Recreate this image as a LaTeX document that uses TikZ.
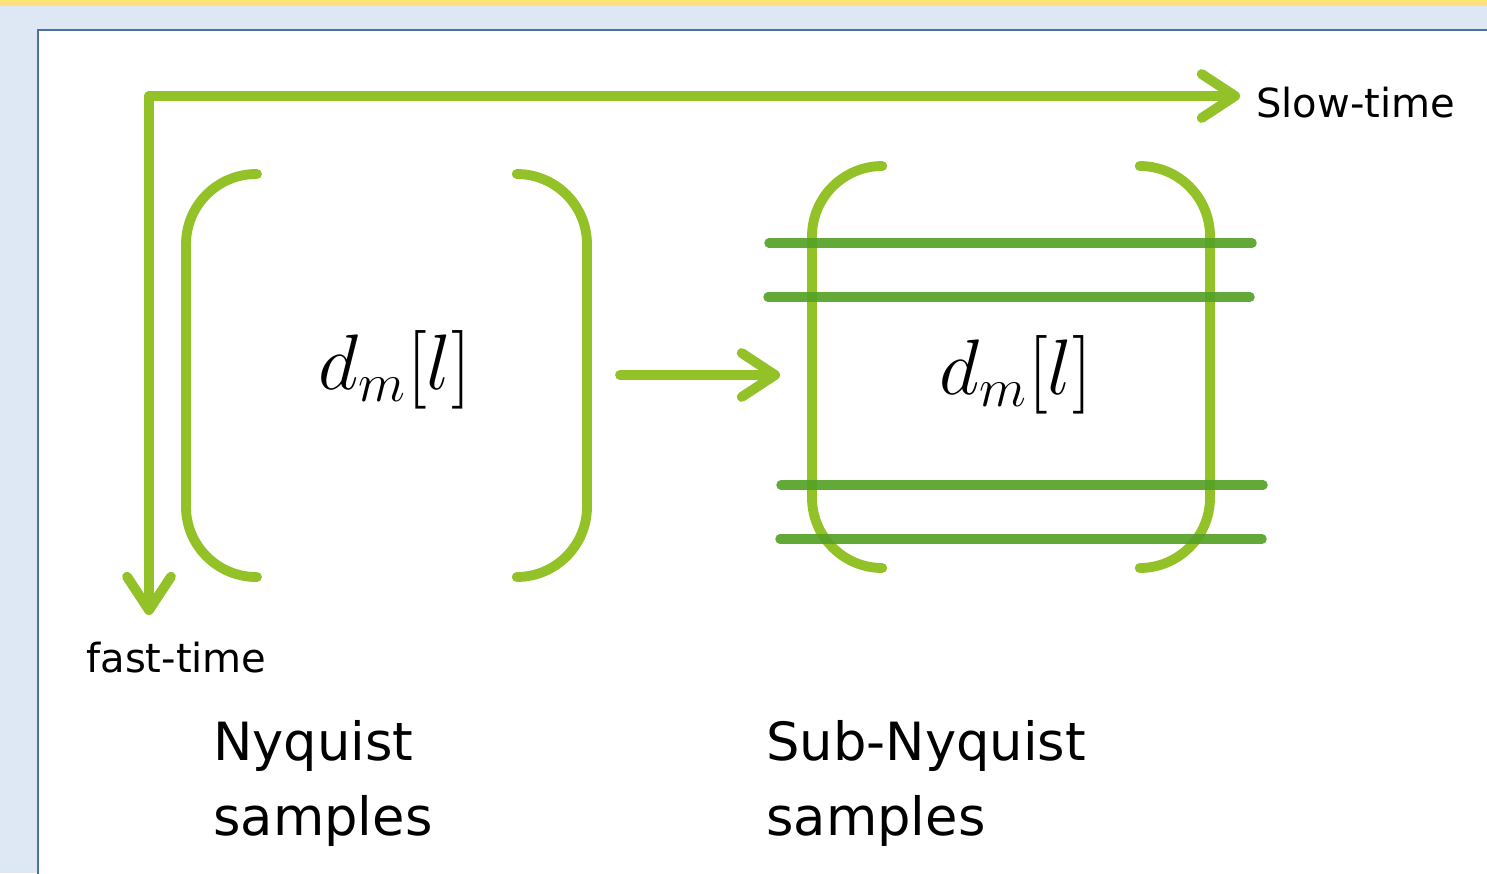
\documentclass[tikz,border=0pt]{standalone}
\usepackage{graphicx}
\usepackage{fontspec}
\setmainfont{DejaVu Sans}
\usepackage{amsmath}
\usetikzlibrary{positioning,arrows.meta}
\definecolor{axisgreen}{HTML}{92C128}
\definecolor{rowgreen}{HTML}{55A227}
\definecolor{pageblue}{HTML}{DEE8F5}
\definecolor{frameblue}{HTML}{4A72A6}
\definecolor{topyellow}{HTML}{FFE17C}
\newcommand{\bigentry}{\scalebox{1.8}{$d_m[l]$}}

\begin{document}
\begin{tikzpicture}[x=0.02cm,y=-0.02cm,
    greenline/.style={draw=axisgreen,line width=5.6pt,line cap=round,line join=round},
    chevron/.style={-{Straight Barb[length=19pt,width=25pt,line cap=round,line join=round]}},
    bracket/.style={greenline,rounded corners=40pt},
    rowline/.style={draw=rowgreen,line width=5.4pt,line cap=round,opacity=0.92},
    label/.style={inner sep=0pt,font=\fontsize{22.8}{28}\selectfont},
    caption/.style={inner sep=0pt,align=left,font=\fontsize{30}{42.5}\selectfont},
    entry/.style={inner sep=0pt,font=\fontsize{24}{28}\selectfont}]
  \useasboundingbox (0,0) rectangle (1487,873);
  \fill[pageblue] (0,0) rectangle (1487,873);
  \fill[topyellow] (0,0) rectangle (1487,6);
  \filldraw[fill=white,draw=frameblue,line width=1.2pt] (38,30) rectangle (1490,876);

  % axes
  \coordinate (corner) at (149,96);
  \coordinate (slowend) at (1240,96);
  \coordinate (fastend) at (149,615);
  \draw[greenline,chevron] (corner) -- (slowend);
  \draw[greenline,chevron] (corner) -- (fastend);
  \node[label,anchor=base west] (slow) at (1256,117) {Slow-time};
  \node[label,anchor=base west] (fast) at (86,672) {fast-time};

  % Nyquist matrix
  \node[entry] (nyq) at (395,370) {\bigentry};
  \draw[bracket] (257,174) -- (186,174) -- (186,577) -- (257,577);
  \draw[bracket] (518,174) -- (587,174) -- (587,577) -- (518,577);
  \coordinate (nyqright) at (620,375);

  % sub-Nyquist matrix
  \node[entry] (sub) at (1016,375) {\bigentry};
  \draw[bracket] (880,166) -- (812,166) -- (812,568) -- (880,568);
  \draw[bracket] (1143,166) -- (1210,166) -- (1210,568) -- (1143,568);
  \coordinate (subleft) at (780,375);
  \draw[greenline,chevron] (nyqright) -- (subleft);

  % kept rows
  \draw[rowline] (769,243) -- (1252,243);
  \draw[rowline] (768,297) -- (1250,297);
  \draw[rowline] (781,485) -- (1263,485);
  \draw[rowline] (780,539) -- (1262,539);

  \node[caption,anchor=base west] (nyqtext) at (213,835) {Nyquist\\samples};
  \node[caption,anchor=base west] (subtext) at (766,835) {Sub-Nyquist\\samples};
\end{tikzpicture}
\end{document}
